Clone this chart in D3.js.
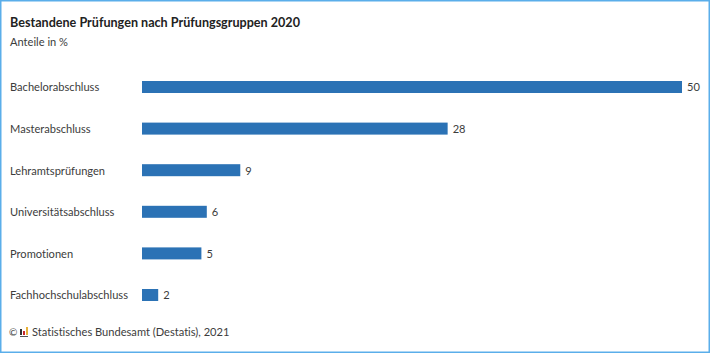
<!DOCTYPE html>
<html>
<head>
<meta charset="utf-8">
<script src="https://cdnjs.cloudflare.com/ajax/libs/d3/7.8.5/d3.min.js"></script>
<style>
    html, body { margin: 0; padding: 0; background: #fff; overflow: hidden; }
    text { font-family: "Lato", sans-serif; fill: #3c3c3c; font-variant-ligatures: none; }
</style>
</head>
<body>
<svg id="chart"></svg>
<script>
let categories = ['Bachelorabschluss', 'Masterabschluss', 'Lehramtsprüfungen',
    'Universitätsabschluss', 'Promotionen', 'Fachhochschulabschluss']
// labels are rounded in the original, bar lengths are not
let values = [50, 28.3, 9.1, 6, 5.5, 1.5]
let labels = ['50', '28', '9', '6', '5', '2']

let width = 710,
    height = 353,
    barHeight = 12,
    fontSize = 11.1

let $svg = d3.select('#chart')
    .attr('width', width)
    .attr('height', height)

$svg.append('rect')
    .attr('x', 0.75)
    .attr('y', 0.75)
    .attr('width', width - 1.5)
    .attr('height', height - 1.5)
    .attr('fill', 'none')
    .attr('stroke', '#5aaeea')
    .attr('stroke-width', 1.5)

let xScale = d3.scaleLinear()
    .domain([0, 50])
    .range([142, 682])

let yScale = d3.scalePoint()
    .domain(categories)
    .range([87, 295])

$svg.append('text')
    .attr('x', 10)
    .attr('y', 27)
    .attr('font-size', 12.6)
    .attr('font-weight', 700)
    .style('fill', '#222')
    .text('Bestandene Prüfungen nach Prüfungsgruppen 2020')

$svg.append('text')
    .attr('x', 10)
    .attr('y', 46)
    .attr('font-size', fontSize)
    .text('Anteile in %')

$svg.selectAll('text.cat')
    .data(categories)
    .enter().append('text')
    .attr('class', 'cat')
    .attr('x', 10)
    .attr('y', d => yScale(d) + 0.5)
    .attr('dy', '0.35em')
    .attr('font-size', fontSize)
    .text(d => d)

$svg.selectAll('rect.bar')
    .data(values)
    .enter().append('rect')
    .attr('class', 'bar')
    .attr('x', xScale(0))
    .attr('y', (d, i) => yScale(categories[i]) - barHeight / 2)
    .attr('width', d => xScale(d) - xScale(0))
    .attr('height', barHeight)
    .attr('fill', '#2b72b5')

$svg.selectAll('text.val')
    .data(values)
    .enter().append('text')
    .attr('class', 'val')
    .attr('x', d => xScale(d) + 5)
    .attr('y', (d, i) => yScale(categories[i]) + 0.5)
    .attr('dy', '0.35em')
    .attr('font-size', fontSize)
    .text((d, i) => labels[i])

// footer
$svg.append('text')
    .attr('x', 9)
    .attr('y', 336)
    .attr('font-size', 10)
    .text('©')

let $logo = $svg.append('g').attr('transform', 'translate(20,327)')
$logo.append('rect').attr('x', 0).attr('y', 2).attr('width', 2).attr('height', 6).attr('fill', '#333')
$logo.append('rect').attr('x', 3).attr('y', 4).attr('width', 2).attr('height', 4).attr('fill', '#c8282d')
$logo.append('rect').attr('x', 6).attr('y', 0).attr('width', 2).attr('height', 8).attr('fill', '#e8b13a')
$logo.append('rect').attr('x', 0).attr('y', 9).attr('width', 8).attr('height', 1).attr('fill', '#555')

$svg.append('text')
    .attr('x', 32)
    .attr('y', 336)
    .attr('font-size', fontSize)
    .text('Statistisches Bundesamt (Destatis), 2021')
</script>
</body>
</html>
